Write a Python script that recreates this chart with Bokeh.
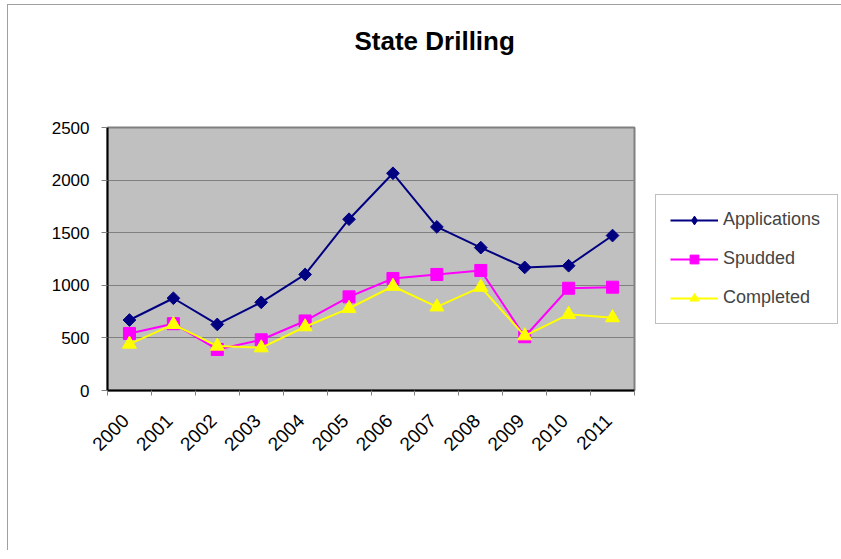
import math
from bokeh.plotting import figure
from bokeh.models import (ColumnDataSource, FixedTicker, Legend, LegendItem, Range1d, Title)
from bokeh.embed import file_html
from bokeh.resources import INLINE

years = ["2000", "2001", "2002", "2003", "2004", "2005",
         "2006", "2007", "2008", "2009", "2010", "2011"]
applications = [670, 877, 628, 838, 1103, 1628, 2065, 1555, 1358, 1170, 1186, 1473]
spudded = [542, 635, 390, 482, 661, 890, 1065, 1103, 1141, 511, 972, 982]
completed = [441, 628, 422, 406, 606, 781, 991, 795, 982, 520, 724, 692]
y_ticks = [0, 500, 1000, 1500, 2000, 2500]

FONT = "Liberation Sans"

xpos = [i + 0.5 for i in range(len(years))]
src = ColumnDataSource(dict(x=xpos, app=applications, spud=spudded, comp=completed))

p = figure(frame_width=527, frame_height=263, output_backend="svg", toolbar_location=None,
           x_range=Range1d(0, len(years)), y_range=Range1d(0, 2500),
           min_border_left=99, min_border_right=198, min_border_top=122,
           min_border_bottom=160, title=None,
           styles={"margin-left": "7px", "margin-top": "4px",
                   "border-top": "1px solid #A0A0A0",
                   "border-left": "1px solid #A0A0A0"})
p.border_fill_color = "white"
p.outline_line_color = "#808080"
p.outline_line_width = 2
p.background_fill_color = "#C0C0C0"

# empty spacer between plot area and title, then the title itself
spacer = Title(text=" ", text_font_size="10px", standoff=50)
p.add_layout(spacer, "above")
title = Title(text="State Drilling", text_font=FONT, text_font_size="26px",
              text_font_style="bold", text_color="black", align="left", offset=247,
              standoff=18)
p.add_layout(title, "above")

# grid
p.xgrid.grid_line_color = None
p.ygrid.grid_line_color = "#808080"
p.ygrid.grid_line_width = 1
p.ygrid.ticker = FixedTicker(ticks=y_ticks)

# x axis: labels at category centres, tick marks at category boundaries
label_pos = [x - 0.09 for x in xpos]
xt = FixedTicker(ticks=label_pos, minor_ticks=list(range(len(years) + 1)))
p.xaxis.ticker = xt
p.xaxis.major_label_overrides = {xp: y for xp, y in zip(label_pos, years)}
p.xaxis.major_label_orientation = math.pi / 4
p.xaxis.major_tick_line_color = None
p.xaxis.minor_tick_line_color = "#808080"
p.xaxis.minor_tick_out = 5
p.xaxis.minor_tick_in = 0
p.xaxis.axis_line_color = "black"
p.xaxis.axis_line_width = 2
p.xaxis.major_label_text_font = FONT
p.xaxis.major_label_text_font_size = "19px"
p.xaxis.major_label_text_color = "black"
p.xaxis.major_label_standoff = 21

# y axis
p.yaxis.ticker = FixedTicker(ticks=y_ticks)
p.yaxis.major_tick_out = 6
p.yaxis.major_tick_in = 0
p.yaxis.major_tick_line_color = "#808080"
p.yaxis.minor_tick_line_color = None
p.yaxis.axis_line_color = "black"
p.yaxis.axis_line_width = 2
p.yaxis.major_label_text_font = FONT
p.yaxis.major_label_text_font_size = "17px"
p.yaxis.major_label_text_color = "black"
p.yaxis.major_label_standoff = 12

# series
l1 = p.line("x", "app", source=src, line_color="#000080", line_width=2)
m1 = p.scatter("x", "app", source=src, marker="square", angle=math.pi / 4, size=9,
               fill_color="#000080", line_color="#000080")
l2 = p.line("x", "spud", source=src, line_color="#FF00FF", line_width=2)
m2 = p.scatter("x", "spud", source=src, marker="square", size=12,
               fill_color="#FF00FF", line_color="#FF00FF")
l3 = p.line("x", "comp", source=src, line_color="#FFFF00", line_width=2)
m3 = p.scatter("x", "comp", source=src, marker="triangle", size=14,
               fill_color="#FFFF00", line_color="#FFFF00")

# diamond glyph for the legend (legend markers are sized by the legend itself)
m1_leg = p.scatter("x", "app", source=src, marker="diamond", size=0.01,
                   fill_color="#000080", line_color="#000080", line_width=1)

legend = Legend(items=[LegendItem(label="Applications", renderers=[l1, m1_leg]),
                       LegendItem(label="Spudded", renderers=[l2, m2]),
                       LegendItem(label="Completed", renderers=[l3, m3])],
                location="left")
legend.label_text_font = FONT
legend.label_text_font_size = "18px"
legend.label_standoff = 5
legend.label_width = 100
legend.glyph_width = 48
legend.glyph_height = 22
legend.spacing = 17
legend.padding = 14
legend.margin = 21
legend.border_line_color = "#808080"
legend.border_line_width = 1
legend.background_fill_alpha = 1
p.add_layout(legend, "right")

open("out.html", "w").write(file_html(p, INLINE))
